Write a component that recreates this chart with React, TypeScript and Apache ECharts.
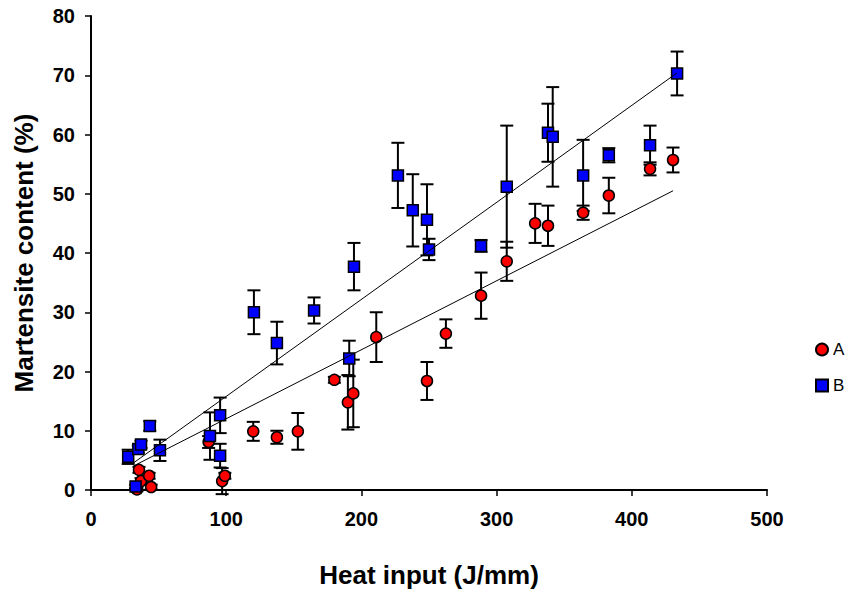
import React, { useEffect, useRef } from "react";
import * as echarts from "echarts";

// Series A (red circles)
const aX = [34, 35.5, 37, 43, 44.5, 87, 97, 99, 120, 137.5, 153, 180, 190, 194, 211, 248.5, 262.5, 288.5, 307.5, 328.5, 338, 364, 383, 413.5, 430.5];
const aY = [0.1, 3.4, 1.5, 2.4, 0.5, 8.1, 1.5, 2.4, 9.9, 8.9, 9.9, 18.6, 14.8, 16.3, 25.8, 18.4, 26.4, 32.8, 38.6, 45.0, 44.6, 46.8, 49.7, 54.2, 55.7];
const aErr = [0.3, 0.5, 0.5, 0.5, 0.4, 1.0, 2.2, 0.5, 1.6, 1.1, 3.1, 0.5, 4.6, 5.7, 4.2, 3.2, 2.4, 3.9, 3.3, 3.3, 3.4, 1.2, 3.0, 1.1, 2.1];

// Series B (blue squares)
const bX = [27.5, 33, 35, 37, 43.5, 51, 88, 95.5, 95.5, 120.5, 137.5, 165, 191, 194.5, 227, 238, 248.5, 250, 288.5, 307.5, 338, 341.5, 364, 383, 413.5, 433.5];
const bY = [5.6, 0.6, 6.9, 7.7, 10.8, 6.7, 9.1, 12.6, 5.8, 30.0, 24.8, 30.3, 22.2, 37.7, 53.1, 47.2, 45.6, 40.6, 41.2, 51.2, 60.3, 59.6, 53.1, 56.5, 58.2, 70.3];
const bErr = [1.2, 0.3, 0.6, 0.6, 0.8, 1.8, 4.0, 3.0, 2.0, 3.7, 3.6, 2.2, 3.0, 4.0, 5.5, 6.1, 6.0, 1.8, 1.0, 10.3, 4.9, 8.4, 6.0, 1.2, 3.3, 3.7];

// Trend line end points
const trendAX = [31, 430.5];
const trendAY = [4.0, 50.5];
const trendBX = [31, 433.5];
const trendBY = [4.5, 70.4];

const xTicks = { min: 0, max: 500, interval: 100 };
const yTicks = { min: 0, max: 80, interval: 10 };

const zip = (xs: number[], ys: number[]) => xs.map((x, i) => [x, ys[i]]);
const zip3 = (xs: number[], ys: number[], es: number[]) => xs.map((x, i) => [x, ys[i], es[i]]);

const errRender = (params: any, api: any) => {
  const x = api.value(0);
  const y = api.value(1);
  const e = api.value(2);
  const top = api.coord([x, y + e]);
  const bot = api.coord([x, y - e]);
  const hw = 6.5;
  const style = { stroke: "#000", lineWidth: 2 };
  return {
    type: "group",
    children: [
      { type: "line", shape: { x1: top[0], y1: top[1], x2: bot[0], y2: bot[1] }, style },
      { type: "line", shape: { x1: top[0] - hw, y1: top[1], x2: top[0] + hw, y2: top[1] }, style },
      { type: "line", shape: { x1: bot[0] - hw, y1: bot[1], x2: bot[0] + hw, y2: bot[1] }, style },
    ],
  };
};

export default function App() {
  const ref = useRef<HTMLDivElement>(null);
  useEffect(() => {
    if (!ref.current) return;
    const chart = echarts.init(ref.current, null, { renderer: "svg" });
    const font = "'Liberation Sans', Arial, sans-serif";
    chart.setOption({
      animation: false,
      backgroundColor: "#fff",
      grid: { left: 91, right: 85, top: 16, bottom: 102 },
      legend: {
        data: ["A", "B"],
        orient: "vertical",
        left: 810,
        top: 336,
        itemWidth: 12,
        itemHeight: 12,
        itemGap: 19,
        textStyle: { fontFamily: font, fontSize: 17, color: "#000" },
      },
      xAxis: {
        type: "value",
        ...xTicks,
        name: "Heat input (J/mm)",
        nameLocation: "middle",
        nameGap: 72,
        nameTextStyle: { fontFamily: font, fontSize: 26, fontWeight: "bold", color: "#000" },
        axisLine: { onZero: false, lineStyle: { color: "#000", width: 2 } },
        axisTick: { show: true, inside: false, length: 6, lineStyle: { color: "#000", width: 1.5 } },
        axisLabel: { fontFamily: font, fontSize: 20, fontWeight: "bold", color: "#000", margin: 19 },
        splitLine: { show: false },
      },
      yAxis: {
        type: "value",
        ...yTicks,
        name: "Martensite content (%)",
        nameLocation: "middle",
        nameGap: 54,
        nameTextStyle: { fontFamily: font, fontSize: 26, fontWeight: "bold", color: "#000" },
        axisLine: { show: true, onZero: false, lineStyle: { color: "#000", width: 2 } },
        axisTick: { show: true, inside: false, length: 6, lineStyle: { color: "#000", width: 1.5 } },
        axisLabel: { fontFamily: font, fontSize: 20, fontWeight: "bold", color: "#000", margin: 16 },
        splitLine: { show: false },
      },
      series: [
        {
          name: "A err",
          type: "custom",
          renderItem: errRender,
          data: zip3(aX, aY, aErr),
          encode: { x: 0, y: 1 },
          z: 1,
          clip: false,
        },
        {
          name: "B err",
          type: "custom",
          renderItem: errRender,
          data: zip3(bX, bY, bErr),
          encode: { x: 0, y: 1 },
          z: 1,
          clip: false,
        },
        {
          name: "A",
          type: "scatter",
          data: zip(aX, aY),
          symbol: "circle",
          symbolSize: 11,
          itemStyle: { color: "#ff0000", borderColor: "#000", borderWidth: 1.5, opacity: 1 },
          z: 2,
        },
        {
          name: "B",
          type: "scatter",
          data: zip(bX, bY),
          symbol: "rect",
          symbolSize: 11,
          itemStyle: { color: "#0000ff", borderColor: "#000", borderWidth: 1.5, opacity: 1 },
          z: 2,
        },
        {
          name: "trendA",
          type: "line",
          data: zip(trendAX, trendAY),
          symbol: "none",
          lineStyle: { color: "#000", width: 1 },
          z: 3,
        },
        {
          name: "trendB",
          type: "line",
          data: zip(trendBX, trendBY),
          symbol: "none",
          lineStyle: { color: "#000", width: 1 },
          z: 3,
        },
      ],
    });
    return () => chart.dispose();
  }, []);
  return (
    <div
      ref={ref}
      style={{ position: "absolute", left: 0, top: 0, width: 852, height: 593, background: "#fff" }}
    />
  );
}
